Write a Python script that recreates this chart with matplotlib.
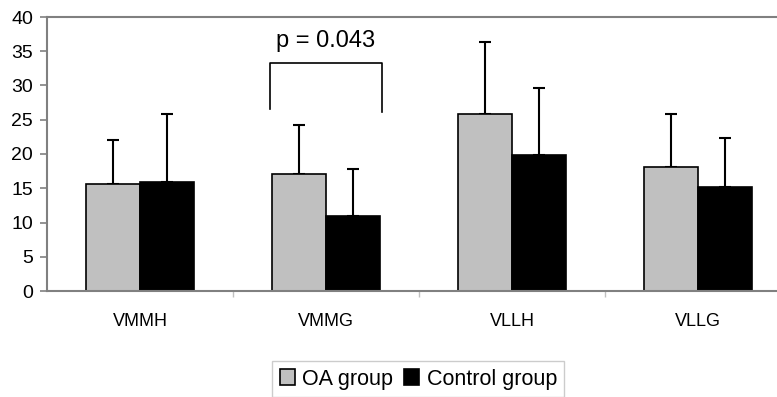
import matplotlib.pyplot as plt
import numpy as np

plt.rcParams["font.family"] = ["Liberation Sans", "DejaVu Sans"]

categories = ["VMMH", "VMMG", "VLLH", "VLLG"]
oa_mean = [15.6, 17.1, 25.8, 18.1]
oa_sd = [6.4, 7.2, 10.6, 7.7]
control_mean = [15.9, 11.0, 19.9, 15.2]
control_sd = [9.9, 6.8, 9.8, 7.2]
series_names = ["OA group", "Control group"]
yticks = [0, 5, 10, 15, 20, 25, 30, 35, 40]
p_label = "p = 0.043"

fig = plt.figure(figsize=(7.77, 3.97), dpi=100)
ax = fig.add_axes([47 / 777, 106 / 397, 744 / 777, 274 / 397])

x = np.arange(len(categories))
w = 0.29

ax.bar(x - w / 2, oa_mean, w, color="#c0c0c0", edgecolor="black",
       linewidth=1.2, label=series_names[0], zorder=2)
ax.bar(x + w / 2, control_mean, w, color="black", edgecolor="black",
       linewidth=1.2, label=series_names[1], zorder=2)

ax.errorbar(x - w / 2, oa_mean, yerr=[np.zeros(4), oa_sd], fmt="none",
            ecolor="black", elinewidth=1.5, capsize=4.3, capthick=1.5, zorder=1)
ax.errorbar(x + w / 2, control_mean, yerr=[np.zeros(4), control_sd], fmt="none",
            ecolor="black", elinewidth=1.5, capsize=4.3, capthick=1.5, zorder=1)

# significance bracket over VMMG
bx0 = x[1] - w - 0.01
bx1 = x[1] + w + 0.01
ax.plot([bx0, bx0, bx1, bx1], [26.6, 33.3, 33.3, 26.1],
        color="black", linewidth=1.2)
ax.text(x[1], 34.9, p_label, ha="center", va="bottom", fontsize=17)

ax.set_xlim(-0.5, 3.5)
ax.set_ylim(0, 40)
ax.set_yticks(yticks)
ax.set_xticks(x)
ax.set_xticklabels(categories)
ax.set_xticks([0.5, 1.5, 2.5], minor=True)

ax.tick_params(axis="y", labelsize=14, length=5, color="#808080",
               width=1.2, pad=5)
ax.tick_params(axis="x", which="major", labelsize=13, length=0, pad=16)
ax.tick_params(axis="x", which="minor", length=4, color="#c0c0c0", width=1)

for s in ["top", "left", "bottom", "right"]:
    ax.spines[s].set_color("#808080")
    ax.spines[s].set_linewidth(1.5)

fig.legend(loc="upper left", bbox_to_anchor=(272 / 777, 36 / 397),
           borderaxespad=0, ncol=2, frameon=True, fancybox=False,
           edgecolor="#c0c0c0", fontsize=15.5, handlelength=0.7,
           handleheight=0.7, handletextpad=0.35, columnspacing=0.5,
           borderpad=0.35)

fig.savefig("out.png", dpi=100)
